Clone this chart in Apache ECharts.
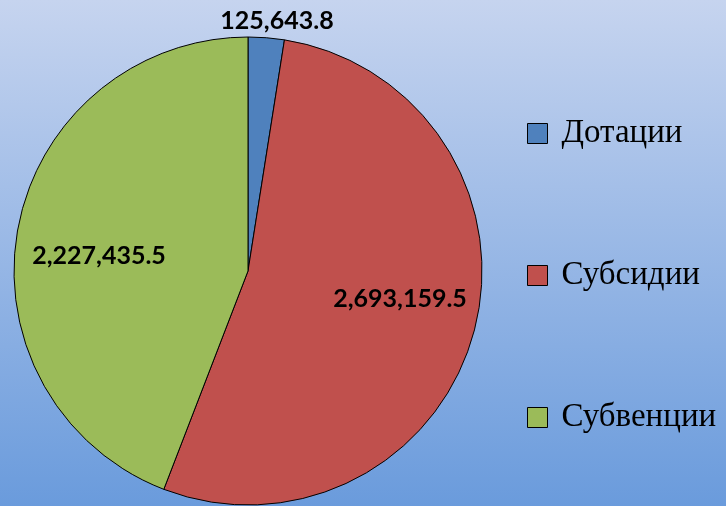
<!DOCTYPE html>
<html>
<head>
<meta charset="utf-8">
<script src="https://cdn.jsdelivr.net/npm/echarts@6/dist/echarts.min.js"></script>
<style>
  html, body { margin: 0; padding: 0; }
  #chart { width: 726px; height: 506px; }
</style>
</head>
<body>
<div id="chart"></div>
<script>
// данные
const categories = ["Дотации", "Субсидии", "Субвенции"];
const values = [125643.8, 2693159.5, 2227435.5];
const colors = ["#4f81bd", "#c0504d", "#9bbb59"];
// где Excel поставил подписи
const labelPos = [[277, 21], [400, 299], [99, 256]];

const fmt = (v) =>
  v.toLocaleString("en-US", { minimumFractionDigits: 1, maximumFractionDigits: 1 });

let chart = echarts.init(document.getElementById("chart"));

chart.setOption({
  backgroundColor: new echarts.graphic.LinearGradient(0, 0, 0, 1, [
    { offset: 0, color: "#c6d4ef" },
    { offset: 1, color: "#6a9bdc" },
  ]),
  legend: {
    orient: "vertical",
    left: 522,
    top: 112,
    itemWidth: 20,
    itemHeight: 20,
    itemGap: 109,
    icon: "rect",
    itemStyle: { borderColor: "#000", borderWidth: 1 },
    textStyle: {
      fontFamily: "Liberation Serif",
      fontSize: 33,
      lineHeight: 31,
      color: "#000",
      padding: [0, 0, 0, 9],
    },
    data: categories,
  },
  series: [
    {
      type: "pie",
      center: [248, 271],
      radius: 234,
      startAngle: 90,
      clockwise: true,
      avoidLabelOverlap: false,
      label: {
        show: true,
        position: "inside",
        formatter: (p) => fmt(p.value),
        fontFamily: "Lato",
        fontWeight: "bold",
        fontSize: 25,
        color: "#000",
      },
      labelLine: { show: false },
      labelLayout: (p) => ({
        x: labelPos[p.dataIndex][0],
        y: labelPos[p.dataIndex][1],
        align: "center",
        verticalAlign: "middle",
      }),
      itemStyle: { borderColor: "#000", borderWidth: 1 },
      emphasis: { disabled: true },
      data: categories.map((name, i) => ({
        name: name,
        value: values[i],
        itemStyle: { color: colors[i] },
      })),
    },
  ],
});
</script>
</body>
</html>
